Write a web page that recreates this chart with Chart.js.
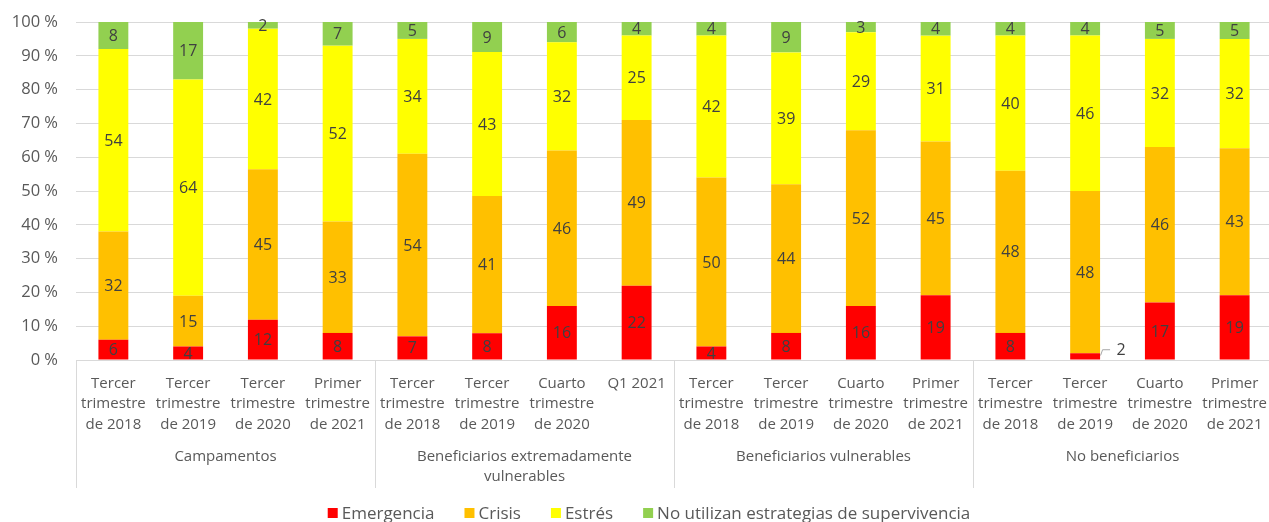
<!DOCTYPE html>
<html><head><meta charset="utf-8">
<script src="https://cdn.jsdelivr.net/npm/chart.js@4.4.1/dist/chart.umd.min.js"></script>
<style>html,body{margin:0;padding:0;overflow:hidden;background:#fff}canvas{display:block}</style>
</head><body>
<canvas id="c" width="1273" height="522"></canvas>
<script>
const categories = [
  ["Tercer","trimestre","de 2018"],["Tercer","trimestre","de 2019"],["Tercer","trimestre","de 2020"],["Primer","trimestre","de 2021"],
  ["Tercer","trimestre","de 2018"],["Tercer","trimestre","de 2019"],["Cuarto","trimestre","de 2020"],["Q1 2021"],
  ["Tercer","trimestre","de 2018"],["Tercer","trimestre","de 2019"],["Cuarto","trimestre","de 2020"],["Primer","trimestre","de 2021"],
  ["Tercer","trimestre","de 2018"],["Tercer","trimestre","de 2019"],["Cuarto","trimestre","de 2020"],["Primer","trimestre","de 2021"]
];
const groups = [["Campamentos"],["Beneficiarios extremadamente","vulnerables"],["Beneficiarios vulnerables"],["No beneficiarios"]];
const groupSize = 4;
const seriesNames = ["Emergencia","Crisis","Estrés","No utilizan estrategias de supervivencia"];
const seriesColors = ["#FF0000","#FFC000","#FFFF00","#92D050"];
const emergencia = [6,4,12,8, 7,8,16,22, 4,8,16,19, 8,2,17,19];
const crisis     = [32,15,45,33, 54,41,46,49, 50,44,52,45, 48,48,46,43];
const estres     = [54,64,42,52, 34,43,32,25, 42,39,29,31, 40,46,32,32];
const noUtilizan = [8,17,2,7, 5,9,6,4, 4,9,3,4, 4,4,5,5];
const yTickValues = [0,10,20,30,40,50,60,70,80,90,100];

const raw = [emergencia, crisis, estres, noUtilizan];
const totals = categories.map((_, i) => raw.reduce((s, arr) => s + arr[i], 0));
const datasets = raw.map((arr, k) => ({
  label: seriesNames[k],
  data: arr.map((v, i) => v / totals[i] * 100),
  rawValues: arr,
  backgroundColor: seriesColors[k],
  borderWidth: 0,
  barPercentage: 0.4,
  categoryPercentage: 1.0
}));

const FONT = "'Open Sans', 'Noto Sans', sans-serif";
const TXT = "#595959";

const labelsPlugin = {
  id: 'segLabels',
  afterDatasetsDraw(chart) {
    const ctx = chart.ctx;
    ctx.save();
    ctx.font = "16px " + FONT;
    ctx.fillStyle = "#404040";
    ctx.textAlign = "center";
    ctx.textBaseline = "middle";
    chart.data.datasets.forEach((ds, di) => {
      const meta = chart.getDatasetMeta(di);
      meta.data.forEach((bar, i) => {
        const v = ds.rawValues[i];
        const cy = (bar.y + bar.base) / 2;
        if (di === 0 && v < 3) {
          const rx = bar.x + bar.width / 2;
          ctx.strokeStyle = "#a6a6a6";
          ctx.lineWidth = 1;
          ctx.beginPath();
          ctx.moveTo(rx + 0.5, bar.base - 4);
          ctx.lineTo(rx + 2.5, bar.y - 3.5);
          ctx.lineTo(rx + 10, bar.y - 3.5);
          ctx.stroke();
          ctx.fillText(String(v), rx + 21, bar.y - 3);
        } else {
          ctx.fillText(String(v), bar.x, cy + 1);
        }
      });
    });
    ctx.restore();
  }
};

const decoPlugin = {
  id: 'deco',
  afterDraw(chart) {
    const ctx = chart.ctx;
    const area = chart.chartArea;
    const n = categories.length;
    const cw = (area.right - area.left) / n;
    ctx.save();
    ctx.strokeStyle = "#d9d9d9";
    ctx.lineWidth = 1;
    for (let g = 0; g <= groups.length; g++) {
      const x = Math.round(area.left + g * groupSize * cw) + 0.5;
      ctx.beginPath();
      ctx.moveTo(x, area.bottom);
      ctx.lineTo(x, area.bottom + 128);
      ctx.stroke();
    }
    ctx.font = "15px " + FONT;
    ctx.fillStyle = TXT;
    ctx.textAlign = "center";
    ctx.textBaseline = "middle";
    groups.forEach((lines, g) => {
      const cx = area.left + (g * groupSize + groupSize / 2) * cw;
      lines.forEach((t, j) => ctx.fillText(t, cx, area.bottom + 97 + j * 20));
    });
    ctx.font = "17px " + FONT;
    ctx.textAlign = "left";
    const box = 10, gapBT = 4, gapItems = 30;
    const widths = chart.data.datasets.map(d => ctx.measureText(d.label).width);
    const total = widths.reduce((s, w) => s + box + gapBT + w, 0) + gapItems * (widths.length - 1);
    let x = 649 - total / 2;
    const ly = 513;
    chart.data.datasets.forEach((d, k) => {
      ctx.fillStyle = d.backgroundColor;
      ctx.fillRect(x, ly - 5, box, box);
      ctx.fillStyle = TXT;
      ctx.fillText(d.label, x + box + gapBT, ly + 1);
      x += box + gapBT + widths[k] + gapItems;
    });
    ctx.restore();
  }
};

new Chart(document.getElementById('c'), {
  type: 'bar',
  data: { labels: categories, datasets },
  options: {
    responsive: false,
    animation: false,
    devicePixelRatio: 1,
    layout: { padding: { top: 22, right: 1, left: 0, bottom: 0 } },
    plugins: { legend: { display: false }, tooltip: { enabled: false } },
    scales: {
      x: {
        stacked: true,
        grid: { display: false, drawTicks: false },
        border: { display: false },
        ticks: { color: TXT, font: { family: FONT, size: 15, lineHeight: 1.34 }, padding: 14, maxRotation: 0, autoSkip: false },
        afterFit(s) { s.height = 162; s.paddingLeft = 0; s.paddingRight = 0; }
      },
      y: {
        stacked: true,
        min: 0, max: 100,
        afterBuildTicks(s) { s.ticks = yTickValues.map(v => ({ value: v })); },
        grid: { color: "#d9d9d9", lineWidth: 1, drawTicks: false },
        border: { display: false },
        ticks: { color: TXT, font: { family: FONT, size: 16.5 }, padding: 18, callback: v => v + " %" },
        afterFit(s) { s.width = 76; s.paddingTop = 0; s.paddingBottom = 0; }
      }
    }
  },
  plugins: [labelsPlugin, decoPlugin]
});
</script>
</body></html>
